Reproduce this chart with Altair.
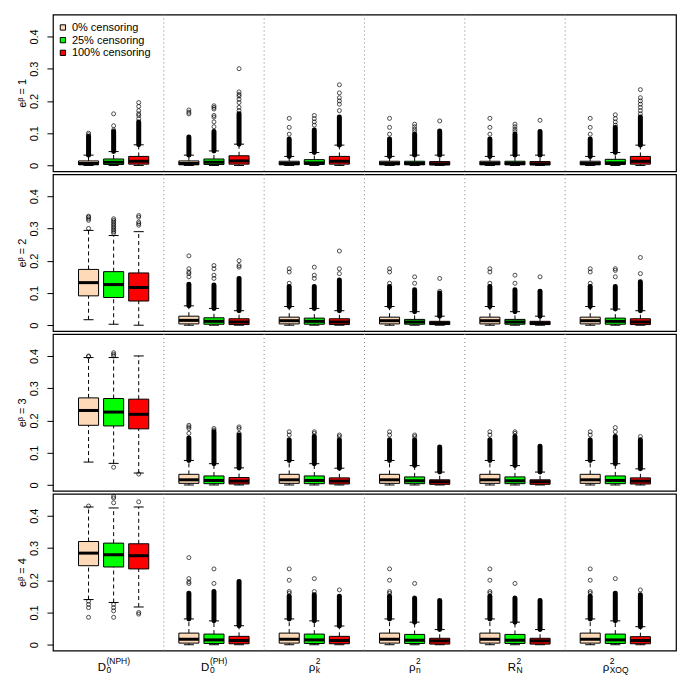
import altair as alt
import pandas as pd

CENS = ["0% censoring", "25% censoring", "100% censoring"]
COLORS = ["#FFDAB9", "#00FF00", "#FF0000"]
PANEL_TITLES = ["eᵝ = 1", "eᵝ = 2", "eᵝ = 3", "eᵝ = 4"]
LBL_BASE = ["D", "D", "ρ", "ρ", "R", "ρ"]
LBL_SUP = ["(NPH)", "(PH)", "2", "2", "2", "2"]
LBL_SUB = ["0", "0", "k", "n", "N", "XOQ"]
TICKS = [0, 0.1, 0.2, 0.3, 0.4]
SEPS = [4, 8, 12, 16, 20]

# per panel: 18 boxes = 6 groups x 3 censoring levels
Q1 = [
    [.002, .003, .004, .002, .003, .004, .002, .003, .004, .002, .002, .002, .002, .002, .002, .002, .003, .004],
    [.091, .086, .075, .004, .003, .002, .004, .003, .002, .004, .003, .002, .004, .003, .002, .004, .003, .002],
    [.185, .183, .174, .005, .004, .003, .005, .004, .003, .005, .004, .002, .005, .004, .002, .005, .004, .003],
    [.245, .241, .235, .005, .004, .003, .005, .004, .003, .005, .004, .002, .005, .004, .002, .005, .004, .003],
]
MED = [
    [.006, .010, .013, .006, .010, .014, .006, .008, .013, .006, .006, .005, .006, .006, .005, .006, .008, .013],
    [.132, .126, .117, .015, .012, .010, .014, .012, .010, .014, .010, .006, .014, .010, .006, .014, .012, .010],
    [.231, .226, .219, .016, .014, .012, .016, .014, .012, .016, .013, .010, .016, .013, .010, .016, .014, .012],
    [.284, .279, .276, .017, .015, .013, .017, .015, .013, .017, .014, .012, .017, .014, .012, .017, .015, .013],
]
Q3 = [
    [.014, .020, .028, .014, .020, .030, .013, .018, .028, .013, .013, .012, .013, .013, .012, .013, .019, .028],
    [.173, .166, .162, .028, .023, .020, .025, .022, .020, .025, .018, .012, .025, .018, .012, .025, .022, .020],
    [.270, .268, .266, .033, .028, .023, .033, .028, .022, .033, .025, .016, .033, .025, .016, .033, .028, .022],
    [.320, .315, .313, .036, .033, .026, .036, .033, .026, .036, .032, .020, .036, .032, .020, .036, .033, .025],
]
WLO = [
    [0] * 18,
    [.017, .003, 0] + [0] * 15,
    [.071, .067, .037] + [0] * 15,
    [.140, .131, .117] + [0] * 15,
]
WHI = [
    [.032, .043, .064, .032, .045, .066, .028, .040, .063, .028, .032, .032, .028, .032, .032, .028, .040, .063],
    [.294, .278, .290, .060, .052, .045, .058, .052, .045, .058, .042, .028, .058, .042, .028, .058, .050, .045],
    [.395, .395, .400, .076, .066, .053, .076, .066, .052, .076, .060, .040, .076, .060, .040, .076, .066, .050],
    [.427, .424, .427, .080, .074, .059, .080, .074, .058, .080, .070, .047, .080, .070, .047, .080, .074, .056],
]
# top of the dense run of outliers (None = no dense run)
DTOP = [
    [.090, .105, .135, .088, .105, .160, .082, .110, .150, .082, .097, .107, .082, .097, .105, .082, .118, .150],
    [None, None, None, .127, .125, .145, .120, .120, .140, .120, .110, .100, .120, .110, .105, .120, .120, .135],
    [None, None, None, .146, .165, .155, .140, .150, .140, .140, .140, .118, .140, .150, .120, .140, .150, .140],
    [None, None, None, .160, .165, .196, .150, .155, .150, .150, .145, .137, .150, .145, .137, .150, .160, .155],
]
OUT = [
    [[.095, .100], [.110, .123, .160], [.145, .155, .160, .170, .183, .195],
     [.160, .165, .172], [.120, .135, .150, .155, .175, .180, .185], [.170, .180, .195, .205, .215, .220, .228, .300],
     [.097, .118, .146], [.125, .135, .145, .155], [.170, .190, .200, .210, .225, .250],
     [.097, .118, .146], [.105, .112, .120, .128], [.138],
     [.097, .118, .146], [.105, .112, .120, .128], [.140],
     [.097, .118, .146], [.125, .135, .145, .157], [.160, .170, .180, .190, .200, .210, .235]],
    [[.300, .325, .330, .335, .338], [.285, .290, .295, .300, .305, .310, .315, .320, .325, .330], [.310, .315, .320, .335, .340],
     [.150, .160, .165, .175, .215], [.145, .155, .175, .185], [.180, .185, .200],
     [.130, .165, .175], [.145, .155, .180], [.160, .175, .230],
     [.130, .165, .175], [.130, .150], [.105, .145],
     [.130, .165, .175], [.130, .155], [.150],
     [.130, .165, .175], [.150, .170, .175], [.160, .210]],
    [[.398, .400], [.055, .400, .405, .410], [.034],
     [.160, .175, .180, .185], [.170, .175], [.160, .175, .180],
     [.155, .165], [.160, .165], [.150, .155],
     [.155, .165], [.150, .155], [],
     [.155, .165], [.160, .165], [],
     [.155, .165], [.165, .178], [.150]],
    [[.430, .135, .125, .115, .085], [.440, .455, .460, .125, .115, .105, .085], [.443, .100, .095],
     [.190, .195, .205, .270], [.190, .235], [],
     [.160, .165, .200, .235], [.165, .205], [.170],
     [.160, .165, .200, .235], [.190], [],
     [.160, .165, .200, .235], [.190], [],
     [.160, .165, .200, .235], [.205], [.170]],
]

W, H = 624, 157
XDOM = [-0.42, 24.42]
PPU = W / (XDOM[1] - XDOM[0])

box_rows, out_rows = [], []
for p in range(4):
    for i in range(18):
        g, c = divmod(i, 3)
        box_rows.append(dict(panel=p, group=g, ci=c, cens=CENS[c], q1=Q1[p][i], med=MED[p][i],
                             q3=Q3[p][i], wlo=WLO[p][i], whi=WHI[p][i], dtop=DTOP[p][i]))
        for v in OUT[p][i]:
            out_rows.append(dict(panel=p, group=g, ci=c, value=v))
bdf = pd.DataFrame(box_rows)
odf = pd.DataFrame(out_rows)
sdf = pd.DataFrame({"s": SEPS})

CW = {"D": .722, "R": .722, "ρ": .578, "(": .333, ")": .333, "N": .722, "P": .667, "H": .722,
      "X": .667, "O": .778, "Q": .778, "0": .556, "2": .556, "k": .5, "n": .556}
def tw(s, fs):
    return sum(CW.get(ch, .6) for ch in s) * fs

BASE_FS, SCRIPT_FS = 11.5, 8.5
lrows = []
for g in range(6):
    bw = tw(LBL_BASE[g], BASE_FS)
    sw = max(tw(LBL_SUP[g], SCRIPT_FS), tw(LBL_SUB[g], SCRIPT_FS))
    shift = (bw - sw) / 2
    lrows.append(dict(base=LBL_BASE[g], sup=LBL_SUP[g], sub=LBL_SUB[g], lx=g * 4 + 2 + shift / PPU))
ldf = pd.DataFrame(lrows)

xs = alt.Scale(domain=XDOM, nice=False, zero=False)
ys = alt.Scale(domain=[-0.018, 0.468], nice=False, zero=False)
FONT = "Liberation Sans"


def panel(p):
    yaxis = alt.Axis(values=TICKS, labelExpr="datum.value == 0 ? '0' : format(datum.value, '.1f')",
                     labelAngle=270, labelAlign="center", labelBaseline="middle", labelPadding=12,
                     tickSize=6, domain=False, grid=False, title=PANEL_TITLES[p], titleAngle=270,
                     titleX=-30, titleY=H / 2, titleAlign="center", titleBaseline="middle")

    def X(f):
        return alt.X(f, scale=xs, axis=None)

    def Y(f):
        return alt.Y(f, scale=ys, axis=yaxis)

    base = alt.Chart(bdf[bdf.panel == p]).transform_calculate(
        pos="datum.group * 4 + datum.ci + 1"
    ).transform_calculate(
        xl="datum.pos - 0.4", xr="datum.pos + 0.4", cl="datum.pos - 0.2", cr="datum.pos + 0.2"
    )
    sep = alt.Chart(sdf).mark_rule(color="#808080", strokeDash=[1, 3]).encode(
        x=X("s:Q"), y=alt.value(0), y2=alt.value(H))
    wh = base.mark_rule(color="black", strokeDash=[4, 3]).encode(x=X("pos:Q"), y=Y("q3:Q"), y2="whi:Q")
    wl = base.mark_rule(color="black", strokeDash=[4, 3]).encode(x=X("pos:Q"), y=Y("wlo:Q"), y2="q1:Q")
    ch = base.mark_rule(color="black").encode(x=X("cl:Q"), x2="cr:Q", y=Y("whi:Q"))
    cl = base.mark_rule(color="black").encode(x=X("cl:Q"), x2="cr:Q", y=Y("wlo:Q"))
    dense = base.transform_filter("isValid(datum.dtop)").mark_rule(
        color="black", strokeWidth=5, strokeCap="round").encode(x=X("pos:Q"), y=Y("whi:Q"), y2="dtop:Q")
    box = base.mark_rect(stroke="black", strokeWidth=1).encode(
        x=X("xl:Q"), x2="xr:Q", y=Y("q1:Q"), y2="q3:Q",
        color=alt.Color("cens:N", scale=alt.Scale(domain=CENS, range=COLORS), legend=None))
    med = base.mark_rule(color="black", strokeWidth=3).encode(x=X("xl:Q"), x2="xr:Q", y=Y("med:Q"))
    pts = alt.Chart(odf[odf.panel == p]).transform_calculate(
        pos="datum.group * 4 + datum.ci + 1"
    ).mark_point(shape="circle", filled=False, size=16, color="black", strokeWidth=1).encode(
        x=X("pos:Q"), y=Y("value:Q"))
    layers = [sep, wh, wl, ch, cl, dense, box, med, pts]
    if p == 0:
        for i, (name, col) in enumerate(zip(CENS, COLORS)):
            ld = pd.DataFrame({"label": [name]})
            layers.append(alt.Chart(ld).mark_square(size=28, stroke="black", strokeWidth=1, opacity=1).encode(
                x=alt.value(10), y=alt.value(13 + 12.7 * i), fill=alt.value(col)))
            layers.append(alt.Chart(ld).mark_text(align="left", baseline="middle", font=FONT,
                                                  fontSize=11, color="black").encode(
                x=alt.value(19), y=alt.value(13.5 + 12.7 * i), text="label:N"))
    if p == 3:
        bt = alt.Chart(ldf).mark_text(align="right", baseline="alphabetic", font=FONT,
                                      fontSize=BASE_FS, color="black").encode(
            x=X("lx:Q"), y=alt.value(177), text="base:N")
        st = alt.Chart(ldf).mark_text(align="left", baseline="alphabetic", font=FONT, dx=0.5,
                                      fontSize=SCRIPT_FS, color="black").encode(
            x=X("lx:Q"), y=alt.value(170), text="sup:N")
        bt2 = alt.Chart(ldf).mark_text(align="left", baseline="alphabetic", font=FONT, dx=0.5,
                                       fontSize=SCRIPT_FS, color="black").encode(
            x=X("lx:Q"), y=alt.value(179), text="sub:N")
        layers += [bt, st, bt2]
    return alt.layer(*layers).properties(width=W, height=H)


chart = alt.vconcat(*[panel(p) for p in range(4)], spacing=3, bounds="flush").properties(
    padding={"left": 8, "top": 4, "right": 0, "bottom": 0}
).configure_view(
    stroke="black", strokeWidth=1.2
).configure_axis(
    labelFont=FONT, labelFontSize=11, labelColor="black", tickColor="black",
    titleFont=FONT, titleFontSize=11, titleFontWeight="normal", titleColor="black"
)

chart.save("out.html", embed_options={"renderer": "svg", "actions": False})
